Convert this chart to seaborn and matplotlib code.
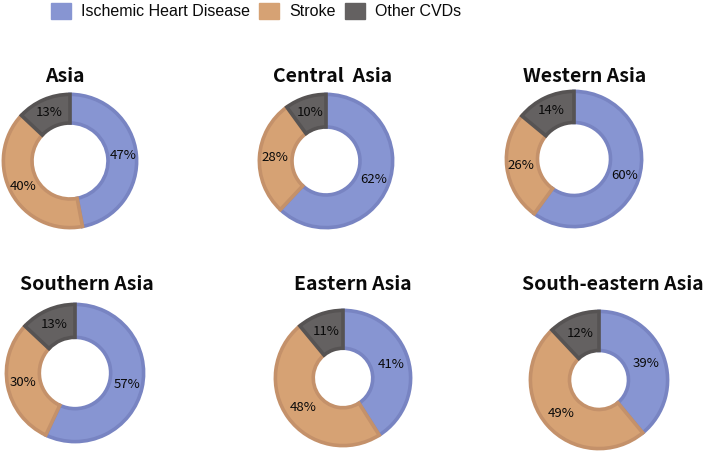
import matplotlib
matplotlib.use("Agg")
import matplotlib.pyplot as plt
import seaborn as sns
from matplotlib.patches import Patch

# data
regions = ["Asia", "Central  Asia", "Western Asia",
           "Southern Asia", "Eastern Asia", "South-eastern Asia"]
causes = ["Ischemic Heart Disease", "Stroke", "Other CVDs"]
ihd = [47, 62, 60, 57, 41, 39]
stroke = [40, 28, 26, 30, 48, 49]
other = [13, 10, 14, 13, 11, 12]

# styling
sns.set_theme(style="white")
fills = ["#8795d2", "#d6a274", "#646161"]
edges = ["#7884c2", "#c4916a", "#565353"]
plt.rcParams["font.family"] = ["Noto Sans CJK SC", "DejaVu Sans"]

W, H = 705, 451
fig = plt.figure(figsize=(W / 100, H / 100), dpi=100)

# donut centre (px), radius (px), hole ratio ; title centre (px)
layout = [(70, 161, 68, 0.57, 65, 76),
          (326, 161, 68, 0.51, 333, 76),
          (574, 159, 69, 0.54, 585, 76),
          (75, 373, 70, 0.52, 87, 285),
          (343, 378, 69, 0.44, 353, 285),
          (599, 380, 70, 0.43, 613, 285)]

for i, region in enumerate(regions):
    cx, cy, r, hole, tx, ty = layout[i]
    ax = fig.add_axes([(cx - r) / W, 1 - (cy + r) / H, 2 * r / W, 2 * r / H])
    vals = [ihd[i], stroke[i], other[i]]
    wedges, _, autotexts = ax.pie(
        vals, colors=fills, startangle=90, counterclock=False,
        radius=0.98, autopct=lambda p: f"{p:.0f}%",
        pctdistance=(1 + hole) / 2 / 0.98,
        wedgeprops=dict(width=0.98 * (1 - hole), linewidth=2.6),
        textprops=dict(fontsize=9.5, fontweight="medium", color="#0a0a0a"))
    for w, ec in zip(wedges, edges):
        w.set_edgecolor(ec)
    ax.set_xlim(-1, 1)
    ax.set_ylim(-1, 1)
    ax.set_aspect("equal")
    ax.axis("off")
    fig.text(tx / W, 1 - ty / H, region, ha="center", va="center",
             fontsize=14, fontweight="bold", color="#0a0a0a")

handles = [Patch(facecolor=fills[k], edgecolor=fills[k], label=causes[k]) for k in range(3)]
fig.legend(handles=handles, loc="center", bbox_to_anchor=(256 / W, 1 - 11 / H),
           ncol=3, frameon=False, handlelength=1.25, handleheight=1.25,
           handletextpad=0.6, columnspacing=0.6, labelcolor="#0a0a0a",
           prop=dict(family=["Liberation Sans", "DejaVu Sans"], size=11.5))

fig.savefig("out.png", dpi=100)
